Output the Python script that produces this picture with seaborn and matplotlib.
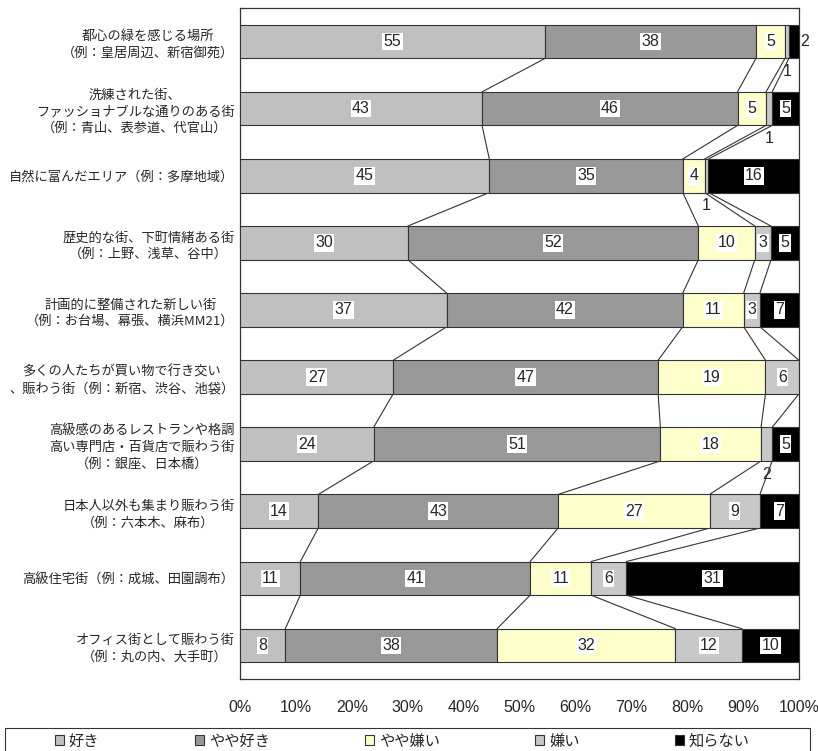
import numpy as np
import pandas as pd
import seaborn as sns
import matplotlib.pyplot as plt
from matplotlib.patches import Patch, Rectangle

# categories (top to bottom) and answer shares in %
places = [
    '都心の緑を感じる場所\n（例：皇居周辺、新宿御苑）',
    '洗練された街、\nファッショナブルな通りのある街\n（例：青山、表参道、代官山）',
    '自然に富んだエリア（例：多摩地域）',
    '歴史的な街、下町情緒ある街\n（例：上野、浅草、谷中）',
    '計画的に整備された新しい街\n（例：お台場、幕張、横浜MM21）',
    '多くの人たちが買い物で行き交い\n、賑わう街（例：新宿、渋谷、池袋）',
    '高級感のあるレストランや格調\n高い専門店・百貨店で賑わう街\n（例：銀座、日本橋）',
    '日本人以外も集まり賑わう街\n（例：六本木、麻布）',
    '高級住宅街（例：成城、田園調布）',
    'オフィス街として賑わう街\n（例：丸の内、大手町）',
]
answers = ['好き', 'やや好き', 'やや嫌い', '嫌い', '知らない']
like = [54.6, 43.3, 44.6, 30.0, 37.0, 27.4, 23.9, 14.0, 10.8, 8.1]
rather_like = [37.7, 45.7, 34.6, 52.0, 42.2, 47.4, 51.3, 42.9, 41.1, 37.9]
rather_dislike = [5.2, 5.1, 3.9, 10.1, 10.9, 19.2, 18.0, 27.1, 10.9, 31.9]
dislike = [0.7, 1.1, 0.7, 2.9, 2.9, 6.0, 2.0, 9.0, 6.3, 11.9]
dont_know = [1.8, 4.8, 16.2, 5.0, 7.0, 0.0, 4.8, 7.0, 30.9, 10.2]
colors = ['#c0c0c0', '#999999', '#ffffcc', '#c8c8c8', '#000000']

values = np.array([like, rather_like, rather_dislike, dislike, dont_know])
starts = np.vstack([np.zeros(len(places)), np.cumsum(values, axis=0)[:-1]])
ends = starts + values

sns.set_style("white")
plt.rcParams['font.family'] = ['Noto Sans CJK JP', 'DejaVu Sans']
num_font = ['Liberation Sans', 'DejaVu Sans']

fig = plt.figure(figsize=(8.18, 7.51), dpi=100)
ax = fig.add_axes([240 / 818, 1 - 679 / 751, (799 - 240) / 818, (679 - 8) / 751])

for k in range(len(answers)):
    df = pd.DataFrame({'place': places, 'share': values[k]})
    sns.barplot(data=df, x='share', y='place', orient='y', ax=ax, color=colors[k],
                left=starts[k], width=0.5, edgecolor='#333333', linewidth=0.8,
                saturation=1, zorder=3)

# series lines between neighbouring bars
for i in range(len(places) - 1):
    for k in range(len(answers) - 1):
        ax.plot([ends[k][i], ends[k][i + 1]], [i + 0.25, i + 0.75],
                color='#333333', lw=0.8, zorder=2)

# value labels
for i in range(len(places)):
    for k in range(len(answers)):
        v = values[k][i]
        if v <= 0:
            continue
        txt = str(int(v + 0.5))
        mid = starts[k][i] + v / 2
        if v >= 2.5:
            ax.text(mid, i, txt, ha='center', va='center', fontsize=11.5, family=num_font,
                    zorder=5, bbox=dict(boxstyle='square,pad=0.08', fc='white', ec='none'))
        elif k == len(answers) - 1:
            ax.text(ends[k][i] + 0.3, i, txt, ha='left', va='center', fontsize=11.5,
                    family=num_font, zorder=5, clip_on=False)
        else:
            ax.text(mid, i + 0.45, txt, ha='center', va='center', fontsize=11.5,
                    family=num_font, zorder=5)

ax.set_xlim(0, 100)
ax.set_ylim(len(places) - 0.5, -0.5)
ax.set_xlabel('')
ax.set_ylabel('')
ax.set_xticks(np.arange(0, 101, 10))
ax.set_xticklabels([f'{t}%' for t in range(0, 101, 10)], fontsize=11.5, family=num_font)
ax.set_yticks(range(len(places)))
ax.set_yticklabels(places, fontsize=9.5, multialignment='center', linespacing=1.35)
ax.set_yticks(np.arange(0.5, len(places) - 1, 1), minor=True)
ax.tick_params(axis='y', which='major', length=0, pad=4)
ax.tick_params(axis='y', which='minor', direction='in', length=5, width=0.8, color='#333333')
ax.tick_params(axis='x', which='major', direction='in', length=6, width=0.8,
               color='#333333', pad=15)
for s in ax.spines.values():
    s.set_visible(True)
    s.set_color('#333333')
    s.set_linewidth(0.9)

handles = [Patch(facecolor=c, edgecolor='#333333', lw=0.8, label=a) for a, c in zip(answers, colors)]
fig.legend(handles=handles, loc='center', bbox_to_anchor=(0.492, 1 - 741 / 751), ncol=5,
           frameon=False, columnspacing=6.25, handlelength=0.6, handleheight=0.6,
           handletextpad=0.3, fontsize=11)
fig.add_artist(Rectangle((5 / 818, -0.02), 805 / 818, 0.02 + 1 - 728 / 751,
                         transform=fig.transFigure, fill=False, lw=0.8, ec='#333333'))

fig.savefig('out.png', dpi=100)
